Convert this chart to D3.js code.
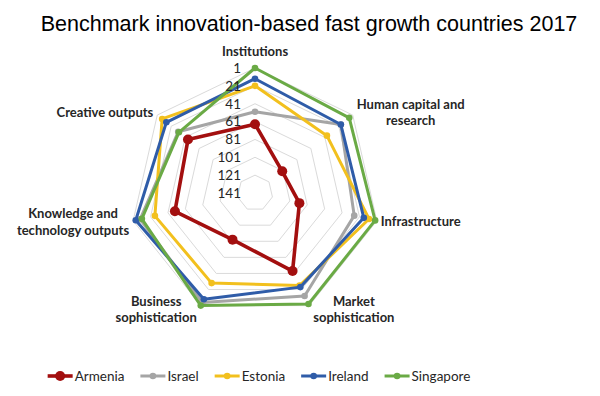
<!DOCTYPE html>
<html>
<head>
<meta charset="utf-8">
<script src="https://cdn.jsdelivr.net/npm/d3@7"></script>
<style>
    body { margin: 0; background: #fff; }
    svg { display: block; }
</style>
</head>
<body>
<svg id="chart" width="600" height="396"></svg>
<script>
// GII 2017 pillar ranks (lower = better)

const categories = [
    "Institutions",
    "Human capital and\nresearch",
    "Infrastructure",
    "Market\nsophistication",
    "Business\nsophistication",
    "Knowledge and\ntechnology outputs",
    "Creative outputs"
];

const countries = ["Armenia", "Israel", "Estonia", "Ireland", "Singapore"];

const armenia   = [64, 102, 90, 44, 83, 49, 45];
const israel    = [50, 18, 27, 13, 5, 9, 31];
const estonia   = [21, 38, 10, 26, 29, 26, 8];
const ireland   = [13, 18, 16, 24, 9, 4, 14];
const singapore = [1, 6, 3, 3, 1, 11, 32];

const rankTicks = [1, 21, 41, 61, 81, 101, 121, 141];

const colors = ["#a30f0f", "#a5a5a5", "#f2c01e", "#2f5ca8", "#6aaa45"];

const seriesValues = [armenia, israel, estonia, ireland, singapore];

/* ------------------------------------------------------------------
   Setup
------------------------------------------------------------------ */

const svg = d3.select("#chart");

const cx = 255;
const cy = 193;
const R = 125;

const rScale = d3.scaleLinear()
    .domain([141, 1])   // reversed: rank 1 on the outside
    .range([0, R]);

const angle = i => i * 2 * Math.PI / categories.length;
const px = (i, r) => cx + Math.sin(angle(i)) * r;
const py = (i, r) => cy - Math.cos(angle(i)) * r;

const series = countries.map((name, k) => ({
    name: name,
    color: colors[k],
    main: k === 0,
    values: seriesValues[k]
}));

/* ------------------------------------------------------------------
   Title
------------------------------------------------------------------ */

svg.append("text")
    .attr("x", 309)
    .attr("y", 31)
    .attr("text-anchor", "middle")
    .attr("font-family", "Liberation Sans, Arial, sans-serif")
    .attr("font-size", 21.5)
    .attr("fill", "#000")
    .text("Benchmark innovation-based fast growth countries 2017");

/* ------------------------------------------------------------------
   Grid rings
------------------------------------------------------------------ */

svg.append("g")
    .attr("class", "grid")
    .selectAll("polygon")
    .data(rankTicks.slice(0, -1))
    .enter()
    .append("polygon")
    .attr("points", v => categories.map((c, i) => [px(i, rScale(v)), py(i, rScale(v))].join(",")).join(" "))
    .attr("fill", "none")
    .attr("stroke", "#dadada")
    .attr("stroke-width", 1);

/* ------------------------------------------------------------------
   Series
------------------------------------------------------------------ */

const line = d3.lineRadial()
    .angle((d, i) => angle(i))
    .radius(d => rScale(d))
    .curve(d3.curveLinearClosed);

const seriesGroup = svg.append("g")
    .attr("transform", `translate(${cx},${cy})`)
    .selectAll("g")
    .data(series)
    .enter()
    .append("g");

seriesGroup.append("path")
    .attr("d", d => line(d.values))
    .attr("fill", "none")
    .attr("stroke", d => d.color)
    .attr("stroke-width", d => d.main ? 3.6 : 3)
    .attr("stroke-linejoin", "round");

seriesGroup.selectAll("circle")
    .data(d => d.values.map((v, i) => ({ v, i, s: d })))
    .enter()
    .append("circle")
    .attr("cx", d => px(d.i, rScale(d.v)) - cx)
    .attr("cy", d => py(d.i, rScale(d.v)) - cy)
    .attr("r", d => d.s.main ? 5 : 3.3)
    .attr("fill", d => d.s.color);

/* ------------------------------------------------------------------
   Rank tick labels (along Institutions axis)
------------------------------------------------------------------ */

svg.append("g")
    .selectAll("text")
    .data(rankTicks)
    .enter()
    .append("text")
    .attr("x", cx - 14)
    .attr("y", v => cy - rScale(v))
    .attr("dy", "0.36em")
    .attr("text-anchor", "end")
    .attr("font-family", "Lato, sans-serif")
    .attr("font-size", 13.5)
    .attr("fill", "#262626")
    .text(v => v);

/* ------------------------------------------------------------------
   Category labels
------------------------------------------------------------------ */

const LINE_H = 16.5;

const labelGroup = svg.append("g")
    .selectAll("g")
    .data(categories)
    .enter()
    .append("g");

labelGroup.each(function (label, i) {
    const g = d3.select(this);
    const lines = label.split("\n");
    const dx = Math.sin(angle(i));
    const dy = -Math.cos(angle(i));
    const vx = px(i, R);
    const vy = py(i, R);

    const texts = g.selectAll("text")
        .data(lines)
        .enter()
        .append("text")
        .attr("text-anchor", "middle")
        .attr("font-family", "Lato, sans-serif")
        .attr("font-weight", "bold")
        .attr("font-size", 13)
        .attr("fill", "#262626")
        .text(t => t);

    let maxW = 0;
    texts.each(function () { maxW = Math.max(maxW, this.getComputedTextLength()); });

    let bx, by;
    if (Math.abs(dx) < 0.1) {
        bx = vx;
        by = vy - 8 - lines.length * LINE_H / 2;
    } else {
        bx = dx > 0 ? vx + 4 + maxW / 2 : vx - 4 - maxW / 2;
        by = vy + 4 * dy;
    }

    texts
        .attr("x", bx)
        .attr("y", (t, j) => by + (j - (lines.length - 1) / 2) * LINE_H)
        .attr("dy", "0.35em");
});

/* ------------------------------------------------------------------
   Legend
------------------------------------------------------------------ */

const LEG_Y = 376;
const LEG_LINE = 25;

const legendItems = svg.append("g")
    .selectAll("g")
    .data(series)
    .enter()
    .append("g");

legendItems.append("line")
    .attr("x1", 0)
    .attr("x2", LEG_LINE)
    .attr("y1", 0)
    .attr("y2", 0)
    .attr("stroke", d => d.color)
    .attr("stroke-width", d => d.main ? 3.6 : 3);

legendItems.append("circle")
    .attr("cx", LEG_LINE / 2)
    .attr("cy", 0)
    .attr("r", d => d.main ? 5 : 3.3)
    .attr("fill", d => d.color);

legendItems.append("text")
    .attr("x", LEG_LINE + 2)
    .attr("y", 0)
    .attr("dy", "0.35em")
    .attr("font-family", "Lato, sans-serif")
    .attr("font-size", 13.5)
    .attr("fill", "#262626")
    .text(d => d.name);

let offset = 0;
const offsets = [];
legendItems.each(function () {
    offsets.push(offset);
    const w = d3.select(this).select("text").node().getComputedTextLength();
    offset += LEG_LINE + 2 + w + 16;
});
const totalW = offset - 16;
const legStart = 259 - totalW / 2;

legendItems.attr("transform", (d, i) => `translate(${legStart + offsets[i]},${LEG_Y})`);
</script>
</body>
</html>
